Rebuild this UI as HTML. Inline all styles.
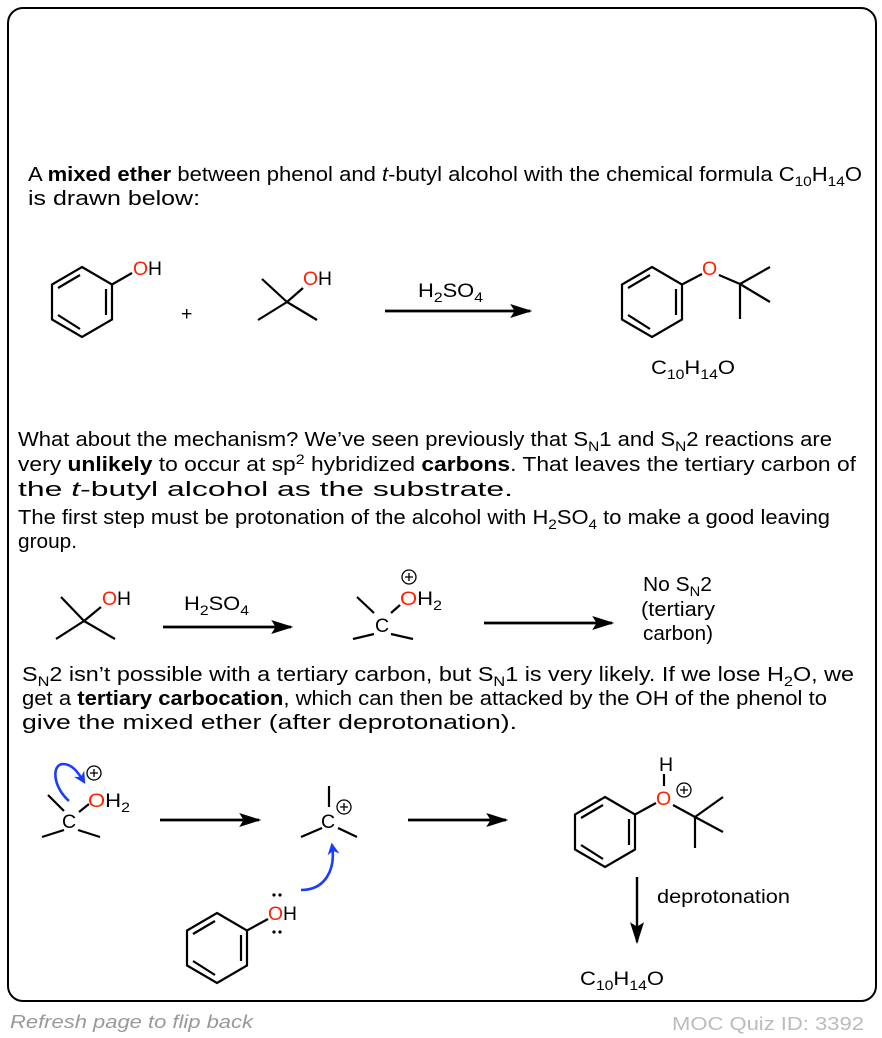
<!DOCTYPE html>
<html><head><meta charset="utf-8"><style>
html,body{margin:0;padding:0;background:#fff;}
svg{display:block;font-family:"Liberation Sans",Arial,sans-serif;}
.t{font-size:20px;fill:#000;}
.m{font-size:19.5px;fill:#000;}
.o{fill:#ff2200;}
.b{stroke:#000;stroke-width:2.2;fill:none;}
.bl{stroke:#1a3cff;stroke-width:2.6;fill:none;}
</style></head><body>
<svg width="882" height="1038" viewBox="0 0 882 1038" xmlns="http://www.w3.org/2000/svg">
<defs>
<marker id="ah" viewBox="0 0 10 10" refX="9" refY="5" markerWidth="22" markerHeight="14" markerUnits="userSpaceOnUse" orient="auto" preserveAspectRatio="none"><path d="M0,0 L10,5 L0,10 L2,5 z" fill="#000"/></marker>
<marker id="ahb" viewBox="0 0 10 10" refX="8" refY="5" markerWidth="12" markerHeight="12" markerUnits="userSpaceOnUse" orient="auto"><path d="M0,0 L10,5 L0,10 L3,5 z" fill="#1a3cff"/></marker>
</defs>
<rect x="8" y="8" width="868" height="993" rx="15" fill="#fff" stroke="#000" stroke-width="2"/>

<text class="t" x="28" y="181" textLength="834" lengthAdjust="spacingAndGlyphs">A <tspan font-weight="bold">mixed ether</tspan> between phenol and <tspan font-style="italic">t</tspan>-butyl alcohol with the chemical formula C<tspan font-size="14" dy="5">10</tspan><tspan dy="-5">H</tspan><tspan font-size="14" dy="5">14</tspan><tspan dy="-5">O</tspan></text>
<text class="t" x="28" y="205" textLength="172" lengthAdjust="spacingAndGlyphs">is drawn below:</text>

<polygon class="b" points="82,267 112,284.5 112,319.5 82,337 52,319.5 52,284.5"/>
<line class="b" x1="106" y1="289" x2="106" y2="315"/>
<line class="b" x1="58" y1="315" x2="80" y2="329"/>
<line class="b" x1="80" y1="275" x2="58" y2="288"/>
<line class="b" x1="112" y1="284.5" x2="132" y2="273"/>
<text class="m" x="133" y="275" textLength="29" lengthAdjust="spacingAndGlyphs"><tspan class="o">O</tspan>H</text>
<text class="m" x="181" y="320">+</text>
<line class="b" x1="287" y1="302" x2="262" y2="279"/>
<line class="b" x1="287" y1="302" x2="258" y2="320"/>
<line class="b" x1="287" y1="302" x2="317" y2="320"/>
<line class="b" x1="287" y1="302" x2="303" y2="288"/>
<text class="m" x="303" y="285" textLength="29" lengthAdjust="spacingAndGlyphs"><tspan class="o">O</tspan>H</text>
<line stroke="#000" stroke-width="2.8" x1="385" y1="311" x2="530" y2="311" marker-end="url(#ah)"/>
<text class="m" x="418" y="297" textLength="65" lengthAdjust="spacingAndGlyphs">H<tspan font-size="14" dy="5">2</tspan><tspan dy="-5">SO</tspan><tspan font-size="14" dy="5">4</tspan></text>
<polygon class="b" points="652,267 682,284.5 682,319.5 652,337 622,319.5 622,284.5"/>
<line class="b" x1="676" y1="289" x2="676" y2="315"/>
<line class="b" x1="628" y1="315" x2="650" y2="329"/>
<line class="b" x1="650" y1="275" x2="628" y2="288"/>
<line class="b" x1="682" y1="284.5" x2="702" y2="274"/>
<text class="m o" x="702" y="275">O</text>
<line class="b" x1="719" y1="275" x2="740" y2="284"/>
<line class="b" x1="740" y1="284" x2="770" y2="267"/>
<line class="b" x1="740" y1="284" x2="770" y2="302"/>
<line class="b" x1="740" y1="284" x2="740" y2="319"/>
<text class="m" x="651" y="374" textLength="84" lengthAdjust="spacingAndGlyphs">C<tspan font-size="14" dy="5">10</tspan><tspan dy="-5">H</tspan><tspan font-size="14" dy="5">14</tspan><tspan dy="-5">O</tspan></text>

<text class="t" x="18" y="446" textLength="814" lengthAdjust="spacingAndGlyphs">What about the mechanism? We’ve seen previously that S<tspan font-size="14" dy="5">N</tspan><tspan dy="-5">1 and S</tspan><tspan font-size="14" dy="5">N</tspan><tspan dy="-5">2 reactions are</tspan></text>
<text class="t" x="18" y="471" textLength="838" lengthAdjust="spacingAndGlyphs">very <tspan font-weight="bold">unlikely</tspan> to occur at sp<tspan font-size="14" dy="-7">2</tspan><tspan dy="7"> hybridized </tspan><tspan font-weight="bold">carbons</tspan>. That leaves the tertiary carbon of</text>
<text class="t" x="18" y="496" textLength="495" lengthAdjust="spacingAndGlyphs">the <tspan font-style="italic">t</tspan>-butyl alcohol as the substrate.</text>
<text class="t" x="18" y="524" textLength="812" lengthAdjust="spacingAndGlyphs">The first step must be protonation of the alcohol with H<tspan font-size="14" dy="5">2</tspan><tspan dy="-5">SO</tspan><tspan font-size="14" dy="5">4</tspan><tspan dy="-5"> to make a good leaving</tspan></text>
<text class="t" x="18" y="548" textLength="59" lengthAdjust="spacingAndGlyphs">group.</text>

<line class="b" x1="84" y1="621" x2="61" y2="597"/>
<line class="b" x1="84" y1="621" x2="56" y2="639"/>
<line class="b" x1="84" y1="621" x2="115" y2="639"/>
<line class="b" x1="84" y1="621" x2="101" y2="607"/>
<text class="m" x="102" y="605" textLength="29" lengthAdjust="spacingAndGlyphs"><tspan class="o">O</tspan>H</text>
<line stroke="#000" stroke-width="2.8" x1="163" y1="627" x2="291" y2="627" marker-end="url(#ah)"/>
<text class="m" x="184" y="610" textLength="65" lengthAdjust="spacingAndGlyphs">H<tspan font-size="14" dy="5">2</tspan><tspan dy="-5">SO</tspan><tspan font-size="14" dy="5">4</tspan></text>
<line class="b" x1="357" y1="597" x2="374" y2="613"/>
<line class="b" x1="374" y1="634" x2="353" y2="639"/>
<line class="b" x1="391" y1="634" x2="413" y2="639"/>
<line class="b" x1="391" y1="613" x2="400" y2="605"/>
<text class="m" x="375" y="632">C</text>
<text class="m" x="400" y="605" textLength="42" lengthAdjust="spacingAndGlyphs"><tspan class="o">O</tspan>H<tspan font-size="14" dy="5">2</tspan></text>
<circle cx="409" cy="577" r="7" fill="none" stroke="#000" stroke-width="1.3"/>
<path d="M405,577h8M409,573v8" stroke="#000" stroke-width="1.3"/>
<line stroke="#000" stroke-width="2.8" x1="484" y1="623" x2="612" y2="623" marker-end="url(#ah)"/>
<text class="t" x="643" y="591" textLength="69" lengthAdjust="spacingAndGlyphs">No S<tspan font-size="14" dy="5">N</tspan><tspan dy="-5">2</tspan></text>
<text class="t" x="641" y="616" textLength="74" lengthAdjust="spacingAndGlyphs">(tertiary</text>
<text class="t" x="643" y="640" textLength="70" lengthAdjust="spacingAndGlyphs">carbon)</text>

<text class="t" x="22" y="681" textLength="832" lengthAdjust="spacingAndGlyphs">S<tspan font-size="14" dy="5">N</tspan><tspan dy="-5">2 isn’t possible with a tertiary carbon, but S</tspan><tspan font-size="14" dy="5">N</tspan><tspan dy="-5">1 is very likely. If we lose H</tspan><tspan font-size="14" dy="5">2</tspan><tspan dy="-5">O, we</tspan></text>
<text class="t" x="22" y="705" textLength="805" lengthAdjust="spacingAndGlyphs">get a <tspan font-weight="bold">tertiary carbocation</tspan>, which can then be attacked by the OH of the phenol to</text>
<text class="t" x="22" y="729" textLength="495" lengthAdjust="spacingAndGlyphs">give the mixed ether (after deprotonation).</text>

<line class="b" x1="48" y1="795" x2="64" y2="811"/>
<line class="b" x1="64" y1="830" x2="42" y2="837"/>
<line class="b" x1="78" y1="830" x2="100" y2="837"/>
<line class="b" x1="79" y1="812" x2="89" y2="804"/>
<text class="m" x="62" y="828">C</text>
<text class="m" x="88" y="807" textLength="42" lengthAdjust="spacingAndGlyphs"><tspan class="o">O</tspan>H<tspan font-size="14" dy="5">2</tspan></text>
<circle cx="94" cy="773" r="7" fill="none" stroke="#000" stroke-width="1.3"/>
<path d="M90,773h8M94,769v8" stroke="#000" stroke-width="1.3"/>
<path class="bl" d="M69,801 C52,786 52,764 63,764 C72,764 78,772 84,782" marker-end="url(#ahb)"/>
<line stroke="#000" stroke-width="2.8" x1="160" y1="820" x2="259" y2="820" marker-end="url(#ah)"/>
<line class="b" x1="329" y1="786" x2="329" y2="807"/>
<text class="m" x="321" y="828">C</text>
<line class="b" x1="322" y1="828" x2="301" y2="837"/>
<line class="b" x1="338" y1="828" x2="357" y2="837"/>
<circle cx="344" cy="807" r="7" fill="none" stroke="#000" stroke-width="1.3"/>
<path d="M340,807h8M344,803v8" stroke="#000" stroke-width="1.3"/>
<line stroke="#000" stroke-width="2.8" x1="408" y1="820" x2="506" y2="820" marker-end="url(#ah)"/>
<path class="bl" d="M301,890 C325,890 336,870 332,845" marker-end="url(#ahb)"/>
<polygon class="b" points="217,913 247,930.5 247,965.5 217,983 187,965.5 187,930.5"/>
<line class="b" x1="241" y1="935" x2="241" y2="961"/>
<line class="b" x1="193" y1="961" x2="215" y2="975"/>
<line class="b" x1="215" y1="921" x2="193" y2="934"/>
<line class="b" x1="247" y1="930.5" x2="268" y2="919"/>
<text class="m" x="268" y="920" textLength="29" lengthAdjust="spacingAndGlyphs"><tspan class="o">O</tspan>H</text>
<circle cx="274" cy="895" r="1.6"/><circle cx="280" cy="895" r="1.6"/>
<circle cx="274" cy="932" r="1.6"/><circle cx="280" cy="932" r="1.6"/>
<polygon class="b" points="605,797 635,814.5 635,849.5 605,867 575,849.5 575,814.5"/>
<line class="b" x1="629" y1="819" x2="629" y2="845"/>
<line class="b" x1="581" y1="845" x2="603" y2="859"/>
<line class="b" x1="603" y1="805" x2="581" y2="818"/>
<line class="b" x1="635" y1="814.5" x2="656" y2="803"/>
<text class="m o" x="656" y="805">O</text>
<text class="m" x="659" y="771">H</text>
<line class="b" x1="664" y1="774" x2="664" y2="786"/>
<circle cx="684" cy="790" r="7" fill="none" stroke="#000" stroke-width="1.3"/>
<path d="M680,790h8M684,786v8" stroke="#000" stroke-width="1.3"/>
<line class="b" x1="673" y1="805" x2="695" y2="817"/>
<line class="b" x1="695" y1="817" x2="723" y2="797"/>
<line class="b" x1="695" y1="817" x2="723" y2="832"/>
<line class="b" x1="695" y1="817" x2="695" y2="848"/>
<line stroke="#000" stroke-width="2.4" x1="637" y1="877" x2="637" y2="942" marker-end="url(#ah)"/>
<text class="m" x="657" y="903" textLength="133" lengthAdjust="spacingAndGlyphs">deprotonation</text>
<text class="m" x="580" y="985" textLength="84" lengthAdjust="spacingAndGlyphs">C<tspan font-size="14" dy="5">10</tspan><tspan dy="-5">H</tspan><tspan font-size="14" dy="5">14</tspan><tspan dy="-5">O</tspan></text>

<text x="10" y="1028" font-size="18" font-style="italic" fill="#999" textLength="243" lengthAdjust="spacingAndGlyphs">Refresh page to flip back</text>
<text x="672" y="1030" font-size="18" fill="#bbb" textLength="192" lengthAdjust="spacingAndGlyphs">MOC Quiz ID: 3392</text>
</svg>
</body></html>
